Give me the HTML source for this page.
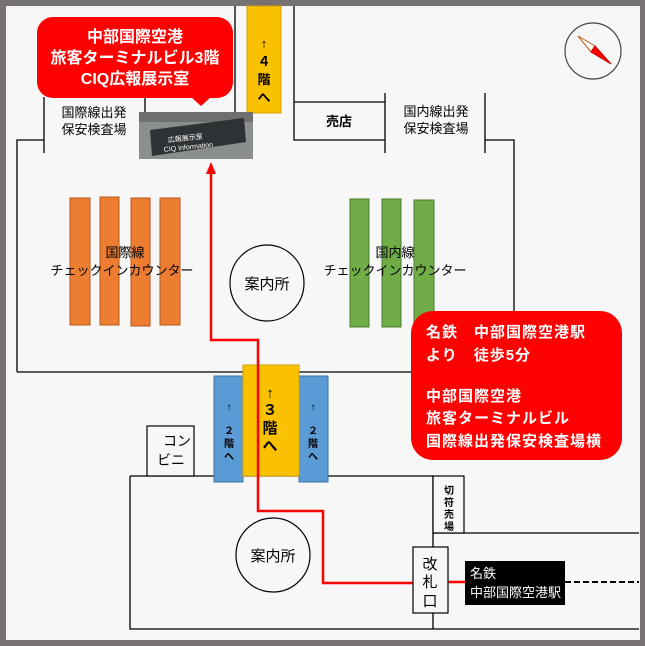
<!DOCTYPE html>
<html><head><meta charset="utf-8"><style>
html,body{margin:0;padding:0;background:#777;}
svg{display:block;font-family:"Liberation Sans","Noto Sans CJK JP",sans-serif;}
</style></head><body>
<svg width="645" height="646" viewBox="0 0 645 646" xmlns="http://www.w3.org/2000/svg">
<rect x="0" y="0" width="645" height="646" fill="#767272"/>
<rect x="6" y="6" width="634" height="634" fill="#f7f7f7"/>
<g stroke="#000" stroke-width="1.3" fill="none">
<path d="M17 372 V140 H44"/>
<path d="M44 97 V153"/>
<path d="M145 97 V115"/>
<path d="M235 6 V112"/>
<path d="M294 6 V140 H385 M294 102 H385"/>
<path d="M385 93 V153 M485 93 V153"/>
<path d="M485 140 H514 V372"/>
<path d="M17 372 H412"/>
<path d="M130 476 V629 H639"/>
<path d="M130 476 H433 V629"/>
<path d="M433 533 H639"/>
</g>
<rect x="433" y="476" width="31" height="57" fill="#f7f7f7" stroke="#000" stroke-width="1.2"/>
<text font-size="10" font-weight="bold" text-anchor="middle" x="449"><tspan x="449" y="494">切</tspan><tspan x="449" y="506">符</tspan><tspan x="449" y="518">売</tspan><tspan x="449" y="530">場</tspan></text>
<rect x="147" y="426" width="47" height="50" fill="#f7f7f7" stroke="#000" stroke-width="1.2"/>
<text font-size="14" x="163" y="446">コン</text><text font-size="14" x="157" y="465">ビニ</text>
<g fill="#ed7d31" stroke="#b55a1a" stroke-width="1">
<rect x="70" y="198" width="20" height="127"/><rect x="100" y="197" width="19" height="128"/>
<rect x="131" y="198" width="19" height="128"/><rect x="160" y="198" width="20" height="127"/>
</g>
<g fill="#70ad47" stroke="#4a7a2e" stroke-width="1">
<rect x="350" y="199" width="19" height="128"/><rect x="382" y="199" width="19" height="128"/><rect x="414" y="200" width="20" height="127"/>
</g>
<text font-size="13" text-anchor="middle"><tspan x="125" y="257">国際線</tspan><tspan x="122" y="275">チェックインカウンター</tspan></text>
<text font-size="13" text-anchor="middle"><tspan x="395" y="257">国内線</tspan><tspan x="395" y="275">チェックインカウンター</tspan></text>
<ellipse cx="267" cy="283" rx="37" ry="38" fill="#f7f7f7" stroke="#000" stroke-width="1.2"/>
<text font-size="15" text-anchor="middle" x="267" y="289">案内所</text>
<circle cx="273" cy="555" r="37" fill="#f7f7f7" stroke="#000" stroke-width="1.2"/>
<text font-size="15" text-anchor="middle" x="273" y="561">案内所</text>
<text font-size="13" text-anchor="middle"><tspan x="94" y="117">国際線出発</tspan><tspan x="94" y="134">保安検査場</tspan></text>
<text font-size="13" text-anchor="middle"><tspan x="436" y="116">国内線出発</tspan><tspan x="436" y="133">保安検査場</tspan></text>
<text font-size="13" font-weight="bold" text-anchor="middle" x="339" y="126">売店</text>
<rect x="247" y="6" width="34" height="107" fill="#fac100" stroke="#d49e00"/>
<text font-size="13" font-weight="bold" text-anchor="middle"><tspan x="264" y="48">↑</tspan><tspan x="264" y="66">４</tspan><tspan x="264" y="84">階</tspan><tspan x="264" y="102">へ</tspan></text>
<rect x="214" y="376" width="29" height="106" fill="#5b9bd5" stroke="#41719c"/>
<rect x="299" y="376" width="29" height="106" fill="#5b9bd5" stroke="#41719c"/>
<rect x="243" y="365" width="56" height="111" fill="#fac100" stroke="#d49e00"/>
<text font-size="10" font-weight="bold" text-anchor="middle"><tspan x="229" y="410">↑</tspan><tspan x="229" y="434">２</tspan><tspan x="229" y="447">階</tspan><tspan x="229" y="460">へ</tspan></text>
<text font-size="10" font-weight="bold" text-anchor="middle"><tspan x="313" y="410">↑</tspan><tspan x="313" y="434">２</tspan><tspan x="313" y="447">階</tspan><tspan x="313" y="460">へ</tspan></text>
<text font-size="15" font-weight="bold" text-anchor="middle"><tspan x="270" y="398">↑</tspan><tspan x="270" y="415">３</tspan><tspan x="270" y="433">階</tspan><tspan x="270" y="451">へ</tspan></text>
<path d="M211 172 V340 H258 V511 H323 V583 H413 M448 582 H465" fill="none" stroke="#f00" stroke-width="2.5"/>
<path d="M211 162 L206 174 L216 174 Z" fill="#f00"/>
<rect x="139" y="112" width="114" height="47" fill="#8a8e8c"/>
<rect x="139" y="112" width="114" height="10" fill="#6d706e"/>
<polygon points="150,130 244,118 246,142 152,156" fill="#2e3234"/>
<text font-size="7" fill="#fff" x="168" y="139" transform="rotate(-6 200 140)">広報展示室</text>
<text font-size="7" fill="#fff" x="163" y="148" transform="rotate(-6 200 140)">CIQ Information</text>
<rect x="37" y="17" width="196" height="81" rx="16" fill="#f00"/>
<path d="M191 97 L201 106 L211 97 Z" fill="#f00"/>
<text font-size="16" font-weight="bold" fill="#fff" text-anchor="middle"><tspan x="135" y="42">中部国際空港</tspan><tspan x="135" y="63">旅客ターミナルビル3階</tspan><tspan x="135" y="84">CIQ広報展示室</tspan></text>
<rect x="411" y="311" width="211" height="149" rx="22" fill="#f00"/>
<text font-size="15" font-weight="bold" fill="#fff" letter-spacing="1"><tspan x="426" y="337">名鉄　中部国際空港駅</tspan><tspan x="426" y="360">より　徒歩5分</tspan><tspan x="426" y="401">中部国際空港</tspan><tspan x="426" y="423">旅客ターミナルビル</tspan><tspan x="426" y="446">国際線出発保安検査場横</tspan></text>
<rect x="413" y="547" width="35" height="66" fill="#f7f7f7" stroke="#000" stroke-width="1.2"/>
<text font-size="15" text-anchor="middle"><tspan x="430" y="569">改</tspan><tspan x="430" y="587">札</tspan><tspan x="430" y="606">口</tspan></text>
<rect x="465" y="561" width="100" height="44" fill="#000"/>
<text font-size="13" fill="#fff"><tspan x="470" y="578">名鉄</tspan><tspan x="470" y="597">中部国際空港駅</tspan></text>
<path d="M565 582 H639" stroke="#000" stroke-width="2" stroke-dasharray="6 3"/>
<circle cx="593" cy="51" r="28" fill="#f7f7f7" stroke="#444" stroke-width="1.2"/>
<polygon points="578,36 595,46 591,52" fill="#fff" stroke="#c55a11" stroke-width="1"/>
<polygon points="591,52 595,46 611,64" fill="#f00" stroke="#c00" stroke-width="1"/>
</svg>
</body></html>
